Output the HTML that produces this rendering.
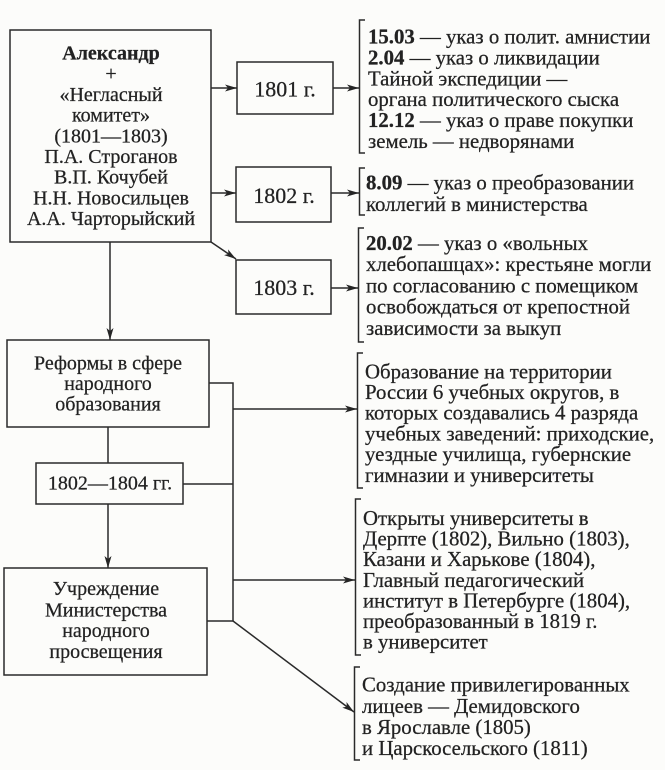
<!DOCTYPE html>
<html><head><meta charset="utf-8"><style>
html,body{margin:0;padding:0;background:#fcfcfa;}
svg{display:block;}
text{font-family:"Liberation Serif","Noto Serif CJK SC",serif;fill:#222;stroke:#222;stroke-width:0.25;}
</style></head><body>
<svg width="665" height="770" viewBox="0 0 665 770" xmlns="http://www.w3.org/2000/svg">
<defs>
<marker id="a" viewBox="0 0 12 8" refX="12" refY="4" markerWidth="12" markerHeight="8" markerUnits="userSpaceOnUse" orient="auto">
<path d="M0,0.5 L12,4 L0,7.5 L3,4 z" fill="#252525"/>
</marker>
</defs>
<g fill="none" stroke="#2a2a2a" stroke-width="1.5">
<rect x="10" y="30" width="201" height="212"/>
<rect x="237" y="62" width="96" height="52"/>
<rect x="236" y="167" width="95" height="55"/>
<rect x="236" y="260" width="95" height="54"/>
<rect x="7" y="340" width="202" height="87"/>
<rect x="36" y="463" width="147" height="41"/>
<rect x="4" y="568" width="203" height="107"/>
<line x1="211" y1="88" x2="237" y2="88" marker-end="url(#a)"/>
<line x1="211" y1="193" x2="236" y2="193" marker-end="url(#a)"/>
<line x1="211" y1="242" x2="236" y2="259" marker-end="url(#a)"/>
<line x1="333" y1="88" x2="359" y2="88" marker-end="url(#a)"/>
<line x1="331" y1="193" x2="359" y2="193" marker-end="url(#a)"/>
<line x1="331" y1="288" x2="358" y2="288" marker-end="url(#a)"/>
<line x1="110" y1="242" x2="110" y2="340" marker-end="url(#a)"/>
<line x1="108" y1="427" x2="108" y2="463"/>
<line x1="108" y1="504" x2="108" y2="568" marker-end="url(#a)"/>
<polyline points="209,383 233,383 233,621 207,621"/>
<line x1="183" y1="484" x2="233" y2="484"/>
<line x1="233" y1="409" x2="357" y2="409" marker-end="url(#a)"/>
<line x1="233" y1="580" x2="355" y2="580" marker-end="url(#a)"/>
<line x1="233" y1="621" x2="354" y2="712" marker-end="url(#a)"/>
<polyline points="365,20 359.5,20 359.5,153 365,153"/>
<polyline points="365,168 359.5,168 359.5,215 365,215"/>
<polyline points="364,228 358.5,228 358.5,342 364,342"/>
<polyline points="363,353 357.5,353 357.5,488 363,488"/>
<polyline points="361,499 355.5,499 355.5,655 361,655"/>
<polyline points="360,667 354.5,667 354.5,760 360,760"/>
</g>

<g font-size="20" text-anchor="middle">
<text x="111" y="59.5" font-weight="bold">Александр</text>
<text x="111" y="80.2">+</text>
<text x="111" y="100.9">«Негласный</text>
<text x="111" y="121.6">комитет»</text>
<text x="111" y="142.3">(1801—1803)</text>
<text x="111" y="163">П.А. Строганов</text>
<text x="111" y="183.7">В.П. Кочубей</text>
<text x="111" y="204.4">Н.Н. Новосильцев</text>
<text x="111" y="225.1">А.А. Чарторыйский</text>
</g>

<g font-size="22" text-anchor="middle">
<text x="285" y="96.7">1801 г.</text>
<text x="284" y="203">1802 г.</text>
<text x="284" y="295">1803 г.</text>
</g>

<g font-size="20" text-anchor="middle">
<text x="108" y="369.5">Реформы в сфере</text>
<text x="108" y="390">народного</text>
<text x="108" y="410.5">образования</text>
<text x="110" y="489.3">1802—1804 гг.</text>
<text x="106" y="595">Учреждение</text>
<text x="106" y="616.5">Министерства</text>
<text x="106" y="637">народного</text>
<text x="106" y="658">просвещения</text>
</g>

<g font-size="20.8">
<text x="368" y="43.5"><tspan font-weight="bold">15.03</tspan> — указ о полит. амнистии</text>
<text x="368" y="64.4"><tspan font-weight="bold">2.04</tspan> — указ о ликвидации</text>
<text x="368" y="85.3">Тайной экспедиции —</text>
<text x="368" y="106.2">органа политического сыска</text>
<text x="368" y="127.1"><tspan font-weight="bold">12.12</tspan> — указ о праве покупки</text>
<text x="368" y="148">земель — недворянами</text>

<text x="366" y="189.5"><tspan font-weight="bold">8.09</tspan> — указ о преобразовании</text>
<text x="366" y="210.8">коллегий в министерства</text>

<text x="366" y="250"><tspan font-weight="bold">20.02</tspan> — указ о «вольных</text>
<text x="366" y="271.2">хлебопашцах»: крестьяне могли</text>
<text x="366" y="292.4">по согласованию с помещиком</text>
<text x="366" y="313.6">освобождаться от крепостной</text>
<text x="366" y="334.8">зависимости за выкуп</text>

<text x="365" y="378.3">Образование на территории</text>
<text x="365" y="399">России 6 учебных округов, в</text>
<text x="365" y="419.7">которых создавались 4 разряда</text>
<text x="365" y="440.4">учебных заведений: приходские,</text>
<text x="365" y="461.1">уездные училища, губернские</text>
<text x="365" y="481.8">гимназии и университеты</text>

<text x="363" y="525">Открыты университеты в</text>
<text x="363" y="545.6">Дерпте (1802), Вильно (1803),</text>
<text x="363" y="566.2">Казани и Харькове (1804),</text>
<text x="363" y="586.8">Главный педагогический</text>
<text x="363" y="607.4">институт в Петербурге (1804),</text>
<text x="363" y="628">преобразованный в 1819 г.</text>
<text x="363" y="648.5">в университет</text>

<text x="362" y="691.7">Создание привилегированных</text>
<text x="362" y="712.8">лицеев — Демидовского</text>
<text x="362" y="733.9">в Ярославле (1805)</text>
<text x="362" y="755">и Царскосельского (1811)</text>
</g>
</svg>
</body></html>
